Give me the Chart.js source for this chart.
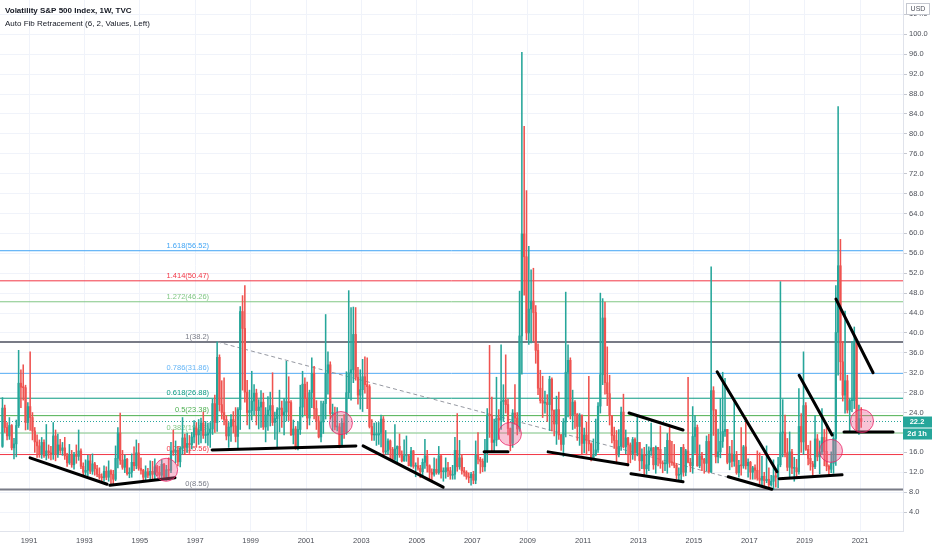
<!DOCTYPE html>
<html>
<head>
<meta charset="utf-8">
<title>Volatility S&P 500 Index, 1W</title>
<script src="https://cdn.jsdelivr.net/npm/chart.js@4.4.1/dist/chart.umd.min.js"></script>
<style>
  html, body { margin: 0; padding: 0; background: #ffffff; overflow: hidden; }
  canvas { display: block; }
</style>
</head>
<body>
<canvas id="vix" width="932" height="550"></canvas>
<script>
// monthly candles, Jan 1990 .. Jan 2021
const startYear = 1990;

const opens = [
  17.2, 24.9, 21.0, 19.3, 21.4, 16.9, 17.7, 21.4, 29.9, 29.1, 29.0, 22.0, // 1990
  25.2, 23.0, 20.3, 18.1, 17.3, 15.7, 18.0, 15.3, 16.3, 15.9, 15.6, 19.3, // 1991
  15.6, 17.5, 16.4, 16.9, 15.3, 13.9, 15.5, 13.5, 15.6, 15.2, 16.3, 13.2, // 1992
  12.0, 12.4, 14.3, 12.2, 13.7, 12.7, 11.6, 11.0, 10.9, 12.2, 11.0, 12.3, // 1993
  11.6, 10.6, 14.8, 19.9, 14.4, 13.0, 14.6, 11.7, 12.0, 14.0, 13.3, 15.9, // 1994
  12.8, 12.4, 11.0, 12.1, 11.4, 12.2, 11.6, 13.1, 12.0, 11.4, 13.6, 11.0, // 1995
  12.5, 12.4, 16.3, 16.0, 16.4, 14.1, 16.8, 18.9, 17.0, 17.8, 17.5, 19.1, // 1996
  20.9, 19.5, 20.4, 21.9, 19.4, 19.5, 19.9, 20.7, 25.8, 22.0, 35.1, 25.6, // 1997
  24.0, 22.6, 19.3, 21.1, 22.6, 21.3, 19.2, 24.6, 44.3, 40.9, 28.1, 24.0, // 1998
  24.4, 26.3, 27.9, 24.4, 25.1, 26.1, 21.1, 23.5, 24.5, 25.4, 22.0, 22.8, // 1999
  24.6, 24.9, 23.4, 24.1, 26.2, 26.0, 19.5, 20.7, 16.8, 20.6, 25.1, 29.7, // 2000
  26.9, 22.9, 28.0, 31.9, 24.8, 22.3, 19.1, 22.1, 25.8, 31.9, 33.6, 23.8, // 2001
  23.8, 21.1, 21.1, 17.4, 21.9, 20.0, 28.0, 32.0, 32.6, 39.7, 31.1, 27.5, // 2002
  28.6, 31.2, 29.6, 29.2, 21.2, 19.5, 19.5, 19.5, 19.8, 22.7, 16.1, 16.3, // 2003
  18.3, 16.6, 14.6, 16.7, 17.2, 15.5, 14.3, 15.3, 15.3, 13.3, 16.3, 13.2, // 2004
  13.3, 12.8, 12.1, 14.0, 15.3, 13.3, 12.0, 11.6, 12.6, 11.9, 15.3, 12.1, // 2005
  12.1, 12.9, 12.3, 11.4, 11.6, 16.4, 13.1, 14.9, 12.3, 12.0, 11.1, 10.9, // 2006
  11.6, 10.4, 15.4, 14.6, 14.2, 13.1, 16.2, 23.5, 23.4, 18.0, 18.5, 22.9, // 2007
  22.5, 26.2, 26.5, 25.6, 20.8, 17.8, 23.9, 22.9, 20.7, 39.4, 59.9, 55.3, // 2008
  40.0, 44.8, 46.4, 44.1, 36.5, 28.9, 26.4, 25.9, 26.0, 25.6, 30.7, 24.5, // 2009
  21.7, 24.6, 19.5, 17.6, 22.1, 32.1, 34.5, 23.5, 26.1, 23.7, 21.2, 23.5, // 2010
  17.8, 19.5, 18.4, 17.7, 14.8, 15.5, 16.5, 25.3, 31.6, 43.0, 30.0, 27.8, // 2011
  23.4, 19.4, 18.4, 15.5, 17.2, 24.1, 17.1, 18.9, 17.5, 15.7, 18.6, 15.9, // 2012
  18.0, 14.3, 15.5, 12.7, 13.5, 16.3, 16.9, 13.5, 17.0, 16.6, 13.8, 13.7, // 2013
  13.7, 18.4, 14.0, 13.9, 13.4, 11.4, 11.6, 17.0, 12.0, 16.3, 14.0, 13.3, // 2014
  19.2, 21.0, 13.3, 15.3, 14.6, 13.8, 18.2, 12.1, 28.4, 24.5, 15.1, 16.1, // 2015
  18.2, 20.2, 20.6, 14.0, 15.7, 14.2, 15.6, 11.9, 13.4, 13.3, 17.1, 13.3, // 2016
  14.0, 12.0, 12.9, 12.4, 10.8, 10.4, 11.2, 10.3, 10.6, 9.5, 10.2, 11.3,  // 2017
  11.0, 13.5, 19.9, 20.0, 15.9, 13.0, 16.1, 12.8, 12.9, 12.1, 21.2, 18.1, // 2018
  25.4, 16.6, 14.8, 13.7, 13.1, 18.7, 15.1, 16.1, 19.0, 16.2, 13.2, 12.6, // 2019
  13.8, 18.8, 40.1, 53.5, 34.2, 27.5, 30.4, 24.5, 26.4, 26.4, 38.0, 20.6, // 2020
  22.8                                                                    // 2021
];

const highs = [
  27.0, 25.5, 22.0, 23.0, 21.6, 18.8, 22.5, 36.5, 32.6, 33.6, 29.5, 26.0, // 1990
  36.2, 24.0, 21.0, 19.5, 18.5, 19.0, 18.5, 21.6, 17.5, 17.2, 22.0, 20.5, // 1991
  19.7, 18.6, 18.0, 19.0, 15.8, 17.6, 16.4, 16.0, 17.5, 20.5, 16.7, 13.9, // 1992
  14.5, 15.4, 15.6, 15.7, 14.0, 13.4, 12.9, 11.7, 13.3, 13.1, 14.3, 12.5, // 1993
  12.4, 17.3, 21.0, 23.9, 16.4, 15.5, 14.8, 12.9, 15.7, 17.1, 18.5, 17.8, // 1994
  14.9, 12.6, 13.3, 12.8, 14.3, 14.2, 14.7, 13.4, 13.2, 14.5, 13.8, 13.4, // 1995
  14.9, 18.0, 20.5, 18.3, 17.2, 17.1, 23.0, 19.7, 19.9, 19.4, 20.0, 22.4, // 1996
  22.0, 22.6, 22.9, 24.1, 22.2, 21.9, 22.0, 26.7, 27.5, 38.2, 35.6, 30.4, // 1997
  31.0, 23.4, 22.0, 23.6, 24.2, 25.0, 25.0, 45.3, 47.5, 49.5, 30.5, 28.5, // 1998
  32.3, 29.6, 28.7, 26.6, 28.4, 27.9, 25.0, 27.2, 28.1, 32.0, 24.1, 25.0, // 1999
  28.5, 26.3, 26.8, 34.3, 31.2, 26.4, 22.5, 21.2, 22.2, 29.5, 32.3, 31.0, // 2000
  30.1, 28.5, 35.0, 33.3, 26.4, 23.3, 26.3, 26.3, 43.7, 36.2, 34.2, 25.7, // 2001
  25.1, 25.0, 21.8, 22.8, 23.6, 32.2, 48.5, 45.1, 45.2, 45.1, 33.1, 32.6, // 2002
  34.7, 35.2, 35.0, 29.6, 22.6, 21.9, 22.0, 22.0, 23.5, 23.2, 20.4, 18.7, // 2003
  18.5, 17.0, 21.6, 17.3, 19.7, 16.3, 18.5, 19.3, 15.4, 17.0, 16.4, 13.9, // 2004
  14.9, 13.4, 14.7, 18.6, 16.4, 13.5, 12.7, 14.9, 14.7, 17.2, 15.5, 12.9, // 2005
  14.9, 14.0, 13.0, 13.4, 19.0, 23.8, 18.4, 15.6, 13.0, 12.3, 11.9, 12.0, // 2006
  12.2, 18.3, 20.0, 15.0, 14.7, 18.6, 24.8, 37.5, 27.1, 22.7, 31.1, 24.6, // 2007
  37.6, 29.6, 35.6, 26.7, 20.9, 24.6, 29.6, 24.0, 48.4, 96.4, 81.5, 68.6, // 2008
  57.4, 52.7, 53.0, 45.5, 37.8, 32.5, 31.3, 28.3, 27.6, 31.3, 31.0, 24.5, // 2009
  27.3, 28.1, 19.6, 22.8, 48.2, 37.6, 35.0, 28.5, 26.4, 23.8, 23.8, 23.5, // 2010
  20.9, 22.1, 31.3, 17.9, 18.7, 22.7, 26.0, 48.0, 46.9, 46.2, 37.2, 31.5, // 2011
  23.4, 21.1, 20.4, 20.6, 25.1, 27.7, 20.5, 19.0, 17.9, 19.0, 18.9, 23.2, // 2012
  18.0, 16.7, 17.0, 17.6, 17.1, 21.9, 17.0, 17.3, 17.0, 21.3, 14.3, 17.0, // 2013
  19.8, 21.5, 18.2, 17.6, 13.8, 12.9, 17.0, 17.6, 16.6, 31.1, 14.8, 25.2, // 2014
  23.4, 21.5, 17.5, 16.0, 14.8, 19.3, 19.6, 53.3, 29.2, 24.6, 20.7, 26.8, // 2015
  32.1, 30.9, 20.6, 17.2, 18.4, 26.7, 16.2, 14.4, 21.0, 17.4, 23.0, 14.7, // 2016
  14.2, 13.2, 13.5, 16.3, 15.9, 15.2, 12.0, 17.3, 12.9, 11.4, 14.5, 12.0, // 2017
  15.0, 50.3, 26.6, 23.5, 18.8, 20.1, 16.6, 15.0, 14.6, 28.8, 23.8, 36.2, // 2018
  26.0, 17.4, 18.3, 14.2, 23.4, 19.6, 18.3, 24.8, 20.6, 21.5, 13.5, 16.1, // 2019
  20.0, 49.5, 85.5, 58.8, 38.3, 44.4, 31.5, 26.7, 38.3, 41.2, 38.0, 25.5, // 2020
  25.0                                                                    // 2021
];

const lows = [
  17.0, 20.0, 18.5, 18.6, 16.5, 14.7, 15.1, 21.0, 25.0, 26.5, 20.5, 20.6, // 1990
  20.4, 18.5, 16.0, 15.0, 15.0, 14.8, 15.0, 14.5, 14.8, 14.5, 14.6, 14.3, // 1991
  15.0, 15.8, 15.4, 14.6, 13.2, 13.6, 13.0, 12.6, 13.8, 14.4, 12.7, 11.4, // 1992
  11.5, 11.3, 11.7, 11.6, 11.4, 11.1, 10.6, 10.1, 10.2, 10.5, 10.2, 9.3,  // 1993
  9.6, 10.3, 12.9, 13.6, 12.6, 11.9, 11.4, 10.9, 11.0, 12.3, 12.7, 12.4,  // 1994
  11.6, 10.5, 10.4, 10.9, 10.6, 10.5, 10.3, 11.3, 10.6, 10.7, 10.8, 10.4, // 1995
  11.0, 11.9, 15.4, 13.9, 13.3, 13.1, 15.6, 15.7, 16.0, 15.8, 16.7, 17.9, // 1996
  17.0, 17.6, 17.9, 18.8, 17.9, 17.4, 17.0, 19.6, 20.0, 20.2, 24.3, 22.7, // 1997
  21.5, 18.5, 17.0, 18.2, 19.9, 18.1, 16.9, 20.6, 28.5, 26.1, 21.5, 20.7, // 1998
  22.5, 23.6, 21.5, 20.7, 21.0, 20.6, 18.1, 20.4, 21.3, 21.4, 18.6, 17.1, // 1999
  20.1, 21.0, 19.5, 22.3, 22.4, 19.4, 17.7, 16.6, 16.5, 19.6, 23.1, 23.6, // 2000
  20.7, 21.5, 25.0, 22.7, 20.6, 18.9, 18.1, 19.8, 22.7, 27.7, 22.7, 20.3, // 2001
  20.5, 20.3, 16.9, 17.3, 18.8, 19.6, 26.8, 26.5, 30.0, 30.5, 25.7, 24.7, // 2002
  24.2, 27.9, 24.8, 20.9, 18.4, 18.4, 17.4, 17.6, 17.1, 15.8, 15.6, 15.6, // 2003
  14.7, 14.3, 14.4, 14.0, 15.0, 14.1, 14.2, 14.2, 13.3, 13.1, 12.8, 11.1, // 2004
  12.4, 10.9, 11.0, 12.8, 12.0, 10.5, 10.2, 11.2, 11.6, 11.6, 10.8, 10.2, // 2005
  10.8, 11.1, 10.6, 10.6, 10.6, 12.2, 12.6, 11.6, 11.2, 10.6, 9.9, 9.4,   // 2006
  9.7, 9.7, 13.7, 11.8, 12.1, 12.2, 14.0, 19.0, 16.1, 16.1, 17.3, 18.6,   // 2007
  20.6, 22.2, 23.9, 19.5, 16.3, 17.0, 21.6, 19.5, 20.2, 31.7, 47.6, 38.6, // 2008
  37.7, 38.0, 38.4, 33.9, 27.6, 25.9, 23.0, 23.9, 22.2, 20.4, 20.3, 19.3, // 2009
  17.6, 18.6, 16.4, 15.2, 19.1, 23.1, 22.7, 20.6, 20.8, 18.4, 17.4, 15.5, // 2010
  15.9, 15.5, 16.3, 14.3, 14.6, 15.3, 16.0, 23.9, 29.6, 27.7, 25.4, 21.5, // 2011
  17.9, 16.8, 13.7, 15.1, 16.4, 16.9, 15.7, 13.3, 13.9, 14.6, 14.4, 15.3, // 2012
  12.3, 12.7, 11.1, 11.6, 12.3, 15.4, 12.6, 11.8, 13.3, 12.8, 11.9, 12.3, // 2013
  11.8, 13.0, 13.4, 12.9, 10.7, 10.3, 10.3, 11.2, 11.3, 13.9, 12.1, 11.8, // 2014
  15.8, 13.2, 12.9, 12.3, 11.8, 12.3, 11.8, 11.9, 19.4, 13.9, 13.9, 14.9, // 2015
  17.0, 19.2, 13.7, 12.5, 13.1, 13.2, 11.6, 11.0, 11.4, 12.8, 12.6, 11.0, // 2016
  10.6, 10.6, 10.6, 10.4, 9.6, 9.4, 8.8, 9.9, 9.0, 9.2, 8.56, 9.0,        // 2017
  8.9, 13.1, 15.1, 15.1, 12.3, 10.9, 11.7, 10.2, 11.1, 11.6, 16.0, 15.6,  // 2018
  16.4, 13.5, 12.4, 11.0, 12.7, 14.3, 11.7, 15.6, 13.3, 12.3, 11.5, 11.9, // 2019
  11.8, 13.4, 31.5, 30.5, 26.3, 23.9, 23.9, 20.3, 24.2, 24.8, 20.3, 19.6, // 2020
  21.0                                                                    // 2021
];

const closes = [
  24.9, 21.0, 19.3, 21.4, 16.9, 17.7, 21.4, 29.9, 29.1, 29.0, 22.0, 25.2, // 1990
  23.0, 20.3, 18.1, 17.3, 15.7, 18.0, 15.3, 16.3, 15.9, 15.6, 19.3, 15.6, // 1991
  17.5, 16.4, 16.9, 15.3, 13.9, 15.5, 13.5, 15.6, 15.2, 16.3, 13.2, 12.0, // 1992
  12.4, 14.3, 12.2, 13.7, 12.7, 11.6, 11.0, 10.9, 12.2, 11.0, 12.3, 11.6, // 1993
  10.6, 14.8, 19.9, 14.4, 13.0, 14.6, 11.7, 12.0, 14.0, 13.3, 15.9, 12.8, // 1994
  12.4, 11.0, 12.1, 11.4, 12.2, 11.6, 13.1, 12.0, 11.4, 13.6, 11.0, 12.5, // 1995
  12.4, 16.3, 16.0, 16.4, 14.1, 16.8, 18.9, 17.0, 17.8, 17.5, 19.1, 20.9, // 1996
  19.5, 20.4, 21.9, 19.4, 19.5, 19.9, 20.7, 25.8, 22.0, 35.1, 25.6, 24.0, // 1997
  22.6, 19.3, 21.1, 22.6, 21.3, 19.2, 24.6, 44.3, 40.9, 28.1, 24.0, 24.4, // 1998
  26.3, 27.9, 24.4, 25.1, 26.1, 21.1, 23.5, 24.5, 25.4, 22.0, 22.8, 24.6, // 1999
  24.9, 23.4, 24.1, 26.2, 26.0, 19.5, 20.7, 16.8, 20.6, 25.1, 29.7, 26.9, // 2000
  22.9, 28.0, 31.9, 24.8, 22.3, 19.1, 22.1, 25.8, 31.9, 33.6, 23.8, 23.8, // 2001
  21.1, 21.1, 17.4, 21.9, 20.0, 28.0, 32.0, 32.6, 39.7, 31.1, 27.5, 28.6, // 2002
  31.2, 29.6, 29.2, 21.2, 19.5, 19.5, 19.5, 19.8, 22.7, 16.1, 16.3, 18.3, // 2003
  16.6, 14.6, 16.7, 17.2, 15.5, 14.3, 15.3, 15.3, 13.3, 16.3, 13.2, 13.3, // 2004
  12.8, 12.1, 14.0, 15.3, 13.3, 12.0, 11.6, 12.6, 11.9, 15.3, 12.1, 12.1, // 2005
  12.9, 12.3, 11.4, 11.6, 16.4, 13.1, 14.9, 12.3, 12.0, 11.1, 10.9, 11.6, // 2006
  10.4, 15.4, 14.6, 14.2, 13.1, 16.2, 23.5, 23.4, 18.0, 18.5, 22.9, 22.5, // 2007
  26.2, 26.5, 25.6, 20.8, 17.8, 23.9, 22.9, 20.7, 39.4, 59.9, 55.3, 40.0, // 2008
  44.8, 46.4, 44.1, 36.5, 28.9, 26.4, 25.9, 26.0, 25.6, 30.7, 24.5, 21.7, // 2009
  24.6, 19.5, 17.6, 22.1, 32.1, 34.5, 23.5, 26.1, 23.7, 21.2, 23.5, 17.8, // 2010
  19.5, 18.4, 17.7, 14.8, 15.5, 16.5, 25.3, 31.6, 43.0, 30.0, 27.8, 23.4, // 2011
  19.4, 18.4, 15.5, 17.2, 24.1, 17.1, 18.9, 17.5, 15.7, 18.6, 15.9, 18.0, // 2012
  14.3, 15.5, 12.7, 13.5, 16.3, 16.9, 13.5, 17.0, 16.6, 13.8, 13.7, 13.7, // 2013
  18.4, 14.0, 13.9, 13.4, 11.4, 11.6, 17.0, 12.0, 16.3, 14.0, 13.3, 19.2, // 2014
  21.0, 13.3, 15.3, 14.6, 13.8, 18.2, 12.1, 28.4, 24.5, 15.1, 16.1, 18.2, // 2015
  20.2, 20.6, 14.0, 15.7, 14.2, 15.6, 11.9, 13.4, 13.3, 17.1, 13.3, 14.0, // 2016
  12.0, 12.9, 12.4, 10.8, 10.4, 11.2, 10.3, 10.6, 9.5, 10.2, 11.3, 11.0,  // 2017
  13.5, 19.9, 20.0, 15.9, 13.0, 16.1, 12.8, 12.9, 12.1, 21.2, 18.1, 25.4, // 2018
  16.6, 14.8, 13.7, 13.1, 18.7, 15.1, 16.1, 19.0, 16.2, 13.2, 12.6, 13.8, // 2019
  18.8, 40.1, 53.5, 34.2, 27.5, 30.4, 24.5, 26.4, 26.4, 38.0, 20.6, 22.8, // 2020
  22.2                                                                    // 2021
];

const yearTicks = [1991, 1993, 1995, 1997, 1999, 2001, 2003, 2005, 2007, 2009, 2011, 2013, 2015, 2017, 2019, 2021];

// auto fib retracement: anchors (time, value) and levels
const fibHigh = [1997.79, 38.2];
const fibLow = [2017.87, 8.56];
const fibRatios = [0, 0.236, 0.382, 0.5, 0.618, 0.786, 1, 1.272, 1.414, 1.618];
const fibLevels = [8.56, 15.56, 19.88, 23.38, 26.88, 31.86, 38.2, 46.26, 50.47, 56.52];
const fibColors = ['#787b86', '#f23645', '#81c784', '#4caf50', '#089981', '#64b5f6', '#787b86', '#81c784', '#f23645', '#42a5f5'];

// hand drawn trend lines: [time1, value1, time2, value2]
const trendLines = [
  [1991.04, 14.9, 1993.82, 9.6],
  [1993.92, 9.4, 1996.27, 10.9],
  [1997.61, 16.5, 2002.80, 17.3],
  [2003.06, 17.3, 2005.95, 9.0],
  [2007.43, 16.1, 2008.29, 16.1],
  [2009.74, 16.1, 2012.62, 13.5],
  [2012.66, 23.9, 2014.61, 20.5],
  [2012.73, 11.7, 2014.61, 10.1],
  [2015.84, 32.2, 2018.00, 12.1],
  [2016.24, 11.1, 2017.82, 8.6],
  [2018.08, 10.7, 2020.35, 11.5],
  [2018.80, 31.5, 2019.99, 19.5],
  [2020.13, 46.8, 2021.47, 32.0],
  [2020.42, 20.1, 2022.19, 20.1]
];

// highlighted zones: [time, value]
const circleMarks = [[1995.95, 12.5], [2002.26, 21.9], [2008.36, 19.7], [2019.95, 16.3], [2021.07, 22.3]];

const lastPrice = closes[closes.length - 1];
const countdown = '2d 1h';

// ---------------------------------------------------------------------------
const upColor = '#26a69a';
const downColor = '#ef5350';
const font = '"Liberation Sans", Arial, sans-serif';

const times = [];
for (let i = 0; i < closes.length; i++) times.push(startYear + (i + 0.5) / 12);
const candleColors = closes.map((c, i) => (c >= opens[i] ? upColor : downColor));

const xMin = 1989.953, xMax = 2022.55;

const datasets = [];

fibLevels.forEach((v, i) => {
  datasets.push({
    type: 'line',
    data: [{ x: xMin, y: v }, { x: xMax, y: v }],
    borderColor: fibColors[i],
    borderWidth: (fibRatios[i] === 0 || fibRatios[i] === 1) ? 2 : 1,
    pointRadius: 0,
    order: 20
  });
});

datasets.push({
  type: 'line',
  data: [{ x: fibHigh[0], y: fibHigh[1] }, { x: fibLow[0], y: fibLow[1] }],
  borderColor: '#9598a1',
  borderWidth: 1,
  borderDash: [4, 3],
  pointRadius: 0,
  order: 19
});

datasets.push({
  type: 'line',
  data: [{ x: xMin, y: lastPrice }, { x: xMax, y: lastPrice }],
  borderColor: upColor,
  borderWidth: 1,
  borderDash: [1, 2],
  pointRadius: 0,
  order: 18
});

datasets.push({
  type: 'bar',
  data: times.map((t, i) => ({ x: t, y: [lows[i], highs[i]] })),
  backgroundColor: candleColors,
  barThickness: 0.9,
  grouped: false,
  order: 10
});

datasets.push({
  type: 'bar',
  data: times.map((t, i) => ({ x: t, y: [opens[i], closes[i]] })),
  backgroundColor: candleColors,
  barThickness: 1.6,
  minBarLength: 1,
  grouped: false,
  order: 9
});

trendLines.forEach(l => {
  datasets.push({
    type: 'line',
    data: [{ x: l[0], y: l[1] }, { x: l[2], y: l[3] }],
    borderColor: '#000000',
    borderWidth: 3,
    borderCapStyle: 'round',
    pointRadius: 0,
    order: 2
  });
});

datasets.push({
  type: 'scatter',
  data: circleMarks.map(c => ({ x: c[0], y: c[1] })),
  pointRadius: 11.5,
  pointBackgroundColor: 'rgba(240, 98, 146, 0.38)',
  pointBorderColor: 'rgba(233, 30, 99, 0.75)',
  pointBorderWidth: 1,
  order: 1
});

const fibLabels = {
  id: 'fibLabels',
  beforeDatasetsDraw(chart) {
    const { ctx, scales: { x, y } } = chart;
    const px = x.getPixelForValue(fibHigh[0]) - 8;
    ctx.save();
    ctx.font = '7.5px ' + font;
    ctx.textAlign = 'right';
    ctx.textBaseline = 'bottom';
    fibRatios.forEach((r, i) => {
      ctx.fillStyle = fibColors[i];
      ctx.fillText(r + '(' + fibLevels[i] + ')', px, y.getPixelForValue(fibLevels[i]) - 1.5);
    });
    ctx.restore();
  }
};

const overlay = {
  id: 'overlay',
  afterDraw(chart) {
    const { ctx, scales: { y }, chartArea } = chart;
    ctx.save();
    // header
    ctx.textAlign = 'left';
    ctx.textBaseline = 'middle';
    ctx.fillStyle = '#131722';
    ctx.font = 'bold 8px ' + font;
    ctx.fillText('Volatility S&P 500 Index, 1W, TVC', 5, 11);
    ctx.font = '8px ' + font;
    ctx.fillText('Auto Fib Retracement (6, 2, Values, Left)', 5, 23.5);

    // currency box
    const ax = chartArea.right;
    ctx.fillStyle = '#ffffff';
    ctx.fillRect(ax + 3, 3, 24, 12);
    ctx.strokeStyle = '#c5c8d0';
    ctx.lineWidth = 1;
    ctx.strokeRect(ax + 3.5, 3.5, 23, 11);
    ctx.fillStyle = '#50535e';
    ctx.font = '7px ' + font;
    ctx.textAlign = 'center';
    ctx.fillText('USD', ax + 15, 9.5);

    // last price + countdown
    const py = y.getPixelForValue(lastPrice);
    ctx.fillStyle = upColor;
    ctx.fillRect(ax, py - 5, chart.width - ax, 11);
    ctx.fillRect(ax, py + 7, chart.width - ax, 11);
    ctx.fillStyle = '#ffffff';
    ctx.font = 'bold 7.5px ' + font;
    ctx.fillText(lastPrice.toFixed(1), ax + 14, py + 0.5);
    ctx.fillText(countdown, ax + 14, py + 12.5);
    ctx.restore();
  }
};

new Chart(document.getElementById('vix'), {
  type: 'bar',
  data: { datasets },
  options: {
    responsive: false,
    animation: false,
    devicePixelRatio: 1,
    layout: { padding: 0, autoPadding: false },
    plugins: { legend: { display: false }, tooltip: { enabled: false } },
    scales: {
      x: {
        type: 'linear',
        min: xMin,
        max: xMax,
        offset: false,
        grid: { color: '#f0f3fa', drawTicks: false, offset: false },
        border: { color: '#e0e3eb' },
        ticks: {
          autoSkip: false,
          maxRotation: 0,
          padding: 5,
          color: '#4c4f58',
          font: { family: font, size: 7.5 },
          callback: v => String(v)
        },
        afterBuildTicks: s => { s.ticks = yearTicks.map(v => ({ value: v })); },
        afterFit: s => { s.height = 19; s.paddingLeft = 0; s.paddingRight = 0; }
      },
      y: {
        position: 'right',
        min: 0.2,
        max: 106.9,
        grid: { color: '#f0f3fa', tickLength: 4, tickColor: '#c5c8d0' },
        border: { color: '#e0e3eb' },
        ticks: {
          stepSize: 4,
          includeBounds: false,
          padding: 2,
          color: '#4c4f58',
          font: { family: font, size: 7.5 },
          callback: v => v.toFixed(1)
        },
        afterFit: s => { s.width = 29; s.paddingTop = 0; s.paddingBottom = 0; }
      }
    }
  },
  plugins: [fibLabels, overlay]
});
</script>
</body>
</html>
